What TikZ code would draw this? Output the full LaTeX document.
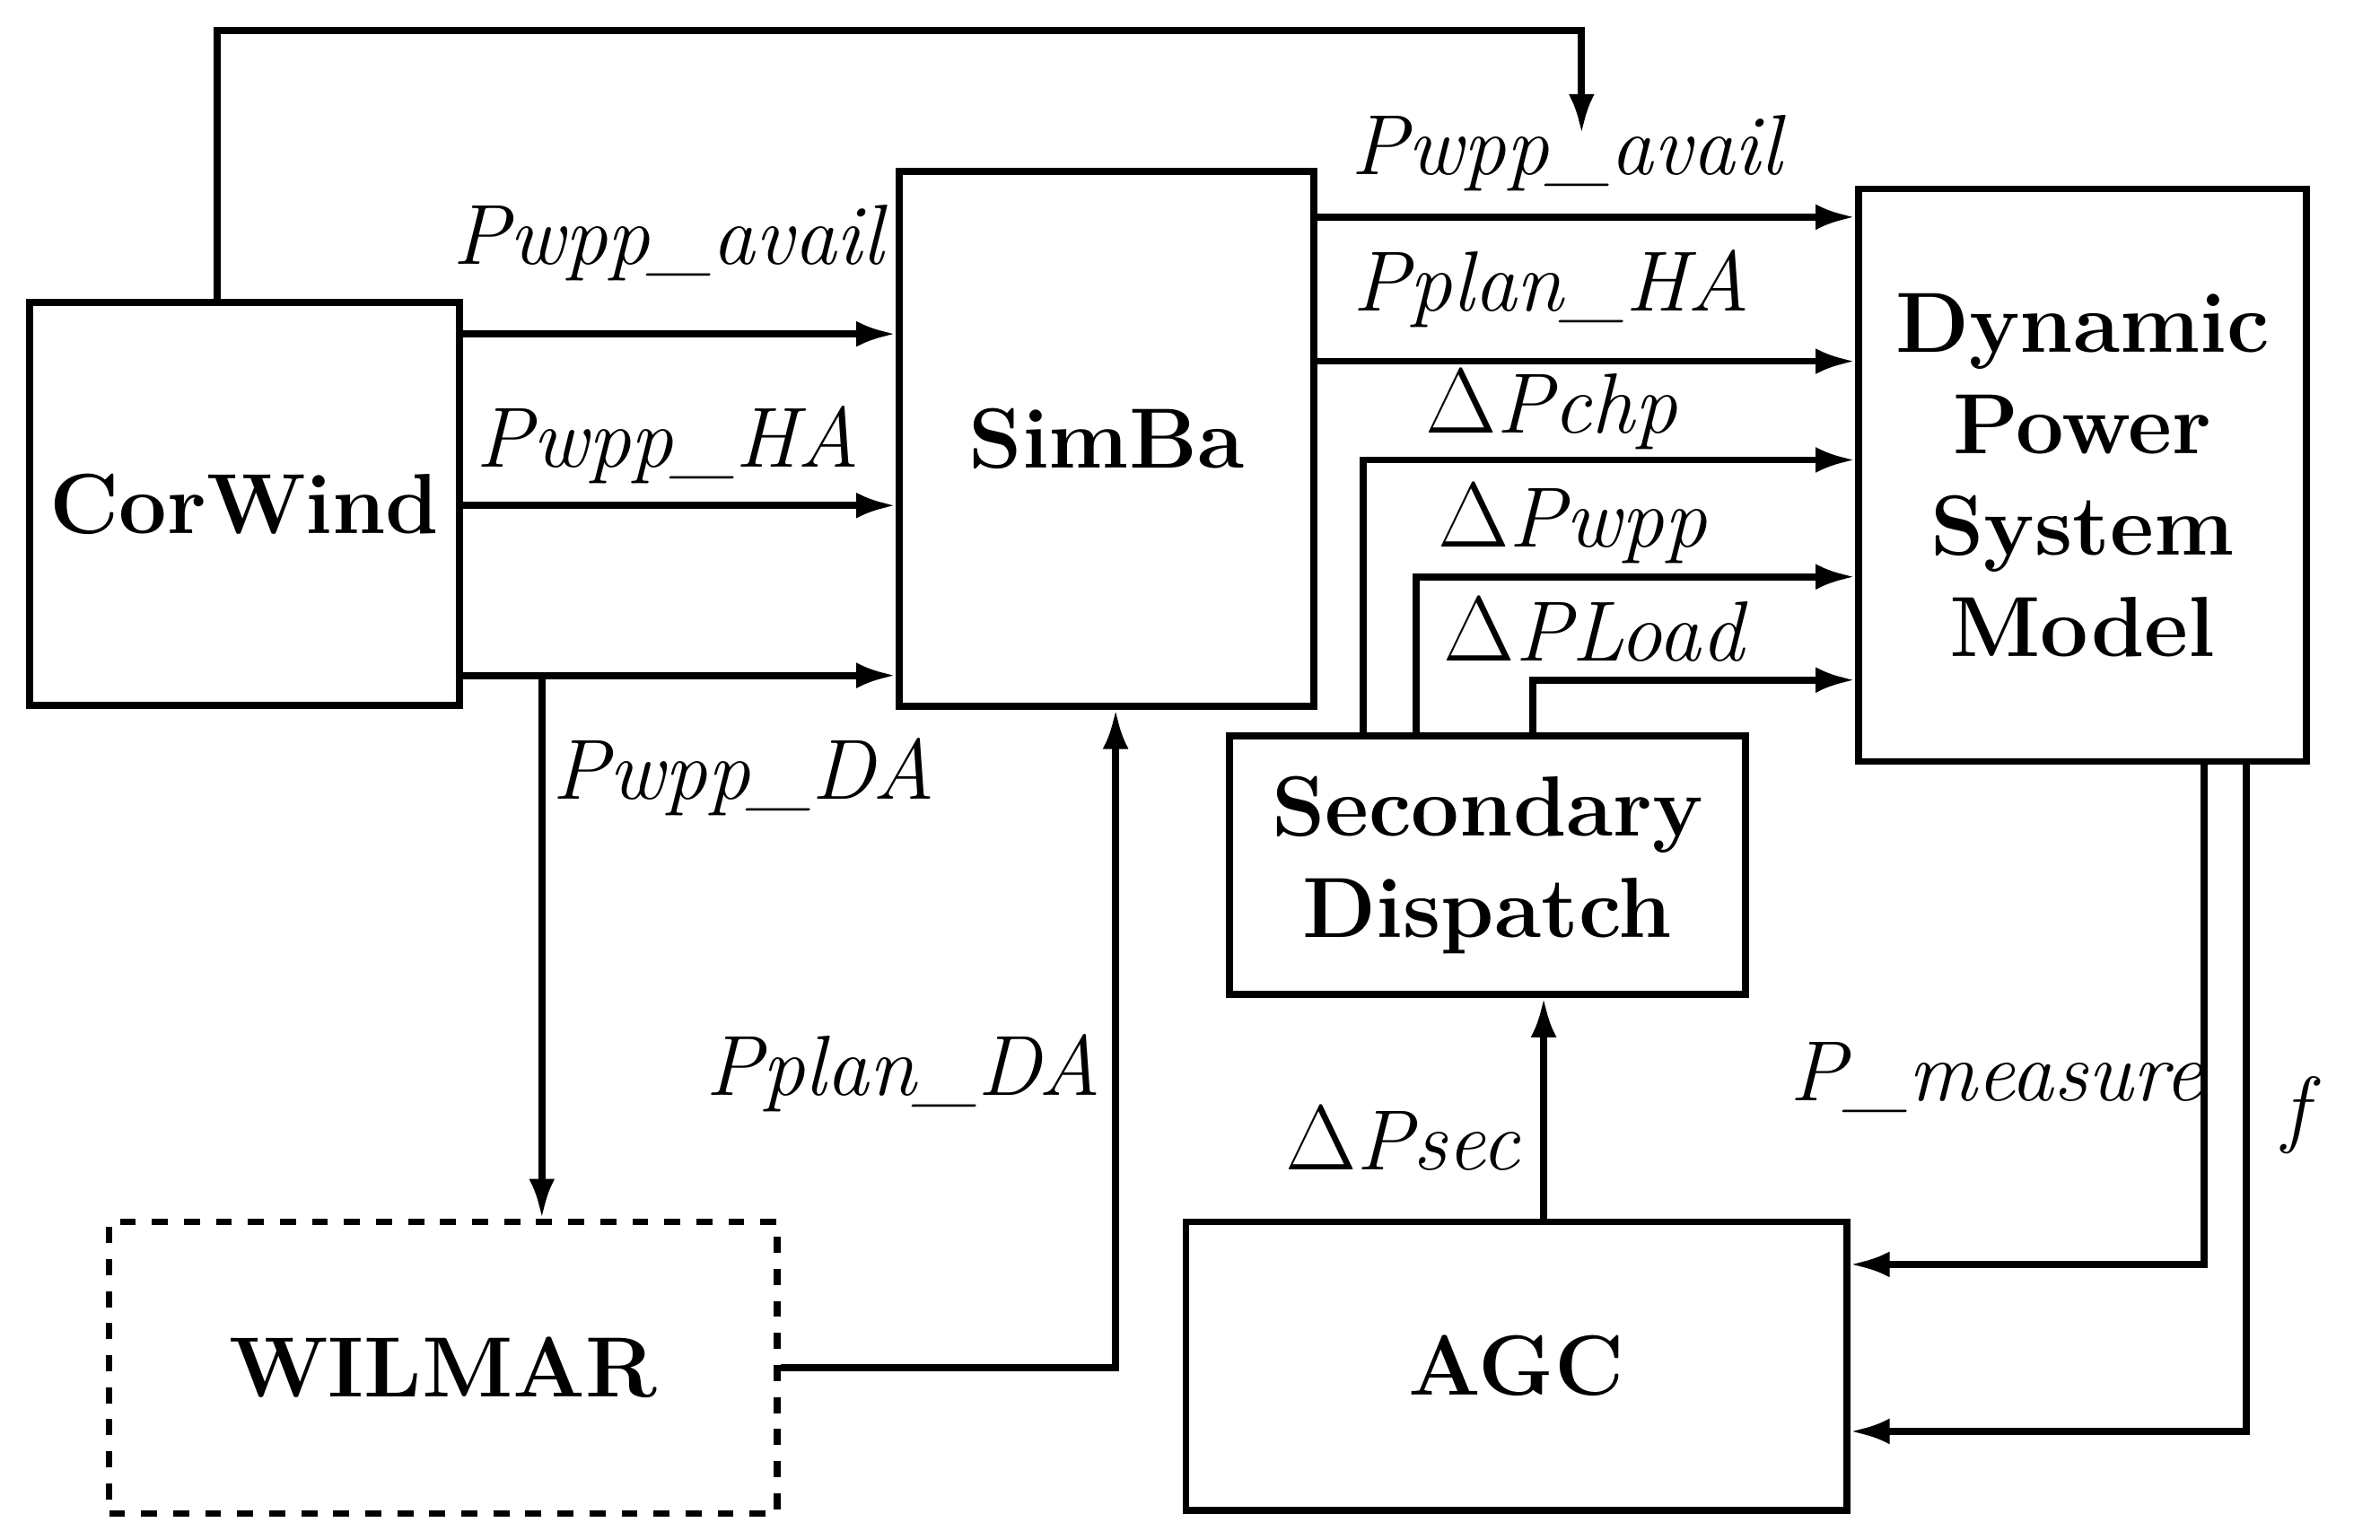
\documentclass[tikz,border=0pt]{standalone}
\usetikzlibrary{arrows.meta}
\begin{document}
\begin{tikzpicture}[x=0.01cm,y=-0.01cm,
    blk/.style={draw, line width=1.3pt, font=\fontsize{16}{19}\selectfont\bfseries, align=center, inner sep=0pt},
    sig/.style={line width=1.3pt, -{Latex[length=0.26cm,width=0.17cm]}},
    lbl/.style={font=\fontsize{16}{19}\selectfont\itshape, inner sep=0pt}]
    % Frame
    \useasboundingbox (0,0) rectangle (1568,1014);

    % Blocks
    \node[blk, minimum width=2.83cm, minimum height=2.65cm] (corwind) at (161,332) {CorWind};
    \node[blk, minimum width=2.73cm, minimum height=3.52cm] (simba) at (729,289) {SimBa};
    \node[blk, minimum width=2.95cm, minimum height=3.77cm] (dpsm) at (1372,313) {Dynamic\\Power\\System\\Model};
    \node[blk, minimum width=3.40cm, minimum height=1.70cm] (secdisp) at (980,570) {Secondary\\Dispatch};
    \node[blk, minimum width=4.35cm, minimum height=1.90cm] (agc) at (999,900) {AGC};
    \node[blk, dashed, minimum width=4.40cm, minimum height=1.92cm] (wilmar) at (292,901) {WILMAR};

    % CorWind outputs
    \draw[line width=1.3pt, -{Latex[length=0.26cm,width=0.17cm]}] (corwind.north -| 143,0) -- (143,20) -- (1042,20) -- (1042,88);
    \draw[sig] (corwind.east |- 0,220) -- (simba.west |- 0,220);
    \draw[sig] (corwind.east |- 0,333) -- (simba.west |- 0,333);
    \draw[sig] (corwind.east |- 0,445) -- (simba.west |- 0,445);
    \draw[sig] (357,445) -- (wilmar.north -| 357,0);
    \draw[sig] (wilmar.east) -- (735,901) -- (simba.south -| 735,0);

    % SimBa outputs
    \draw[sig] (simba.east |- 0,143) -- (dpsm.west |- 0,143);
    \draw[sig] (simba.east |- 0,238) -- (dpsm.west |- 0,238);

    % Secondary dispatch outputs
    \draw[sig] (secdisp.north -| 898,0) -- (898,303) -- (dpsm.west |- 0,303);
    \draw[sig] (secdisp.north -| 933,0) -- (933,380) -- (dpsm.west |- 0,380);
    \draw[sig] (secdisp.north -| 1010,0) -- (1010,448) -- (dpsm.west |- 0,448);
    \draw[sig] (agc.north -| 1017,0) -- (secdisp.south -| 1017,0);

    % Feedback to AGC
    \draw[sig] (dpsm.south -| 1452,0) -- (1452,833) -- (agc.east |- 0,833);
    \draw[sig] (dpsm.south -| 1480,0) -- (1480,943) -- (agc.east |- 0,943);

    % Labels
    \node[lbl] (l1) at (440,160) {Pwpp\_avail};
    \node[lbl] (l2) at (440,293) {Pwpp\_HA};
    \node[lbl] (l3) at (490,512) {Pwpp\_DA};
    \node[lbl] (l4) at (595,707) {Pplan\_DA};
    \node[lbl] (l5) at (1032,101) {Pwpp\_avail};
    \node[lbl] (l6) at (1022,190) {Pplan\_HA};
    \node[lbl] (l7) at (1022,270) {$\Delta$Pchp};
    \node[lbl] (l8) at (1036,345) {$\Delta$Pwpp};
    \node[lbl] (l9) at (1050,415) {$\Delta$PLoad};
    \node[lbl] (l10) at (924,750) {$\Delta$Psec};
    \node[lbl] (l11) at (1315,710) {P\_measure};
    \node[lbl] (l12) at (1512,735) {f};
\end{tikzpicture}
\end{document}
